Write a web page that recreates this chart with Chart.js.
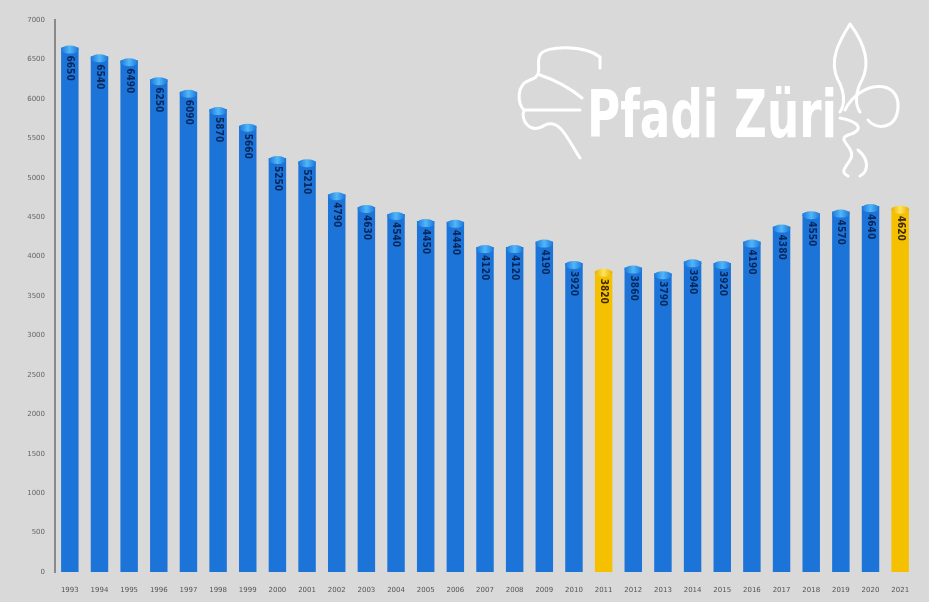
<!DOCTYPE html>
<html>
<head>
<meta charset="utf-8">
<script src="https://cdn.jsdelivr.net/npm/chart.js@4"></script>
<style>
  body { margin: 0; background: #fff; }
  #wrap { width: 937px; height: 608px; position: relative; }
</style>
</head>
<body>
<div id="wrap"><canvas id="myChart" width="937" height="608"></canvas></div>
<script>
// data
const years = ["1993", "1994", "1995", "1996", "1997", "1998", "1999", "2000", "2001", "2002",
  "2003", "2004", "2005", "2006", "2007", "2008", "2009", "2010", "2011", "2012",
  "2013", "2014", "2015", "2016", "2017", "2018", "2019", "2020", "2021"];
const members = [6650, 6540, 6490, 6250, 6090, 5870, 5660, 5250, 5210, 4790,
  4630, 4540, 4450, 4440, 4120, 4120, 4190, 3920, 3820, 3860,
  3790, 3940, 3920, 4190, 4380, 4550, 4570, 4640, 4620];
const highlightYears = ["2011", "2021"];
const yMax = 7000;
const yStep = 500;

const isHighlight = (i) => highlightYears.includes(years[i]);

// background + white margin
const bgPlugin = {
  id: "bg",
  beforeDraw(chart) {
    const ctx = chart.ctx;
    ctx.save();
    ctx.fillStyle = "#ffffff";
    ctx.fillRect(0, 0, chart.width, chart.height);
    ctx.fillStyle = "#d9d9d9";
    ctx.fillRect(0, 0, 929, 602);
    ctx.restore();
  },
};

// logo in the top right corner
const logoPlugin = {
  id: "logo",
  beforeDatasetsDraw(chart) {
    const ctx = chart.ctx;
    ctx.save();
    ctx.strokeStyle = "#ffffff";
    ctx.fillStyle = "#ffffff";
    ctx.lineWidth = 3;
    ctx.lineCap = "round";
    ctx.lineJoin = "round";

    // clover-ish shape on the left
    ctx.beginPath();
    ctx.moveTo(600, 57);
    ctx.bezierCurveTo(585, 45, 545, 45, 540, 55);
    ctx.bezierCurveTo(535, 65, 545, 75, 530, 80);
    ctx.bezierCurveTo(515, 85, 518, 105, 524, 110);
    ctx.lineTo(580, 110);
    ctx.moveTo(524, 110);
    ctx.bezierCurveTo(520, 120, 530, 135, 545, 125);
    ctx.bezierCurveTo(560, 118, 568, 140, 580, 158);
    ctx.moveTo(540, 75);
    ctx.bezierCurveTo(555, 80, 570, 88, 582, 98);
    ctx.moveTo(600, 57);
    ctx.lineTo(600, 68);
    ctx.stroke();

    // fleur-de-lis on the right
    ctx.beginPath();
    ctx.moveTo(850, 24);
    ctx.bezierCurveTo(840, 40, 828, 60, 838, 80);
    ctx.bezierCurveTo(845, 92, 845, 105, 840, 112);
    ctx.moveTo(850, 24);
    ctx.bezierCurveTo(862, 40, 872, 60, 862, 80);
    ctx.bezierCurveTo(855, 92, 855, 105, 860, 112);
    ctx.moveTo(845, 110);
    ctx.bezierCurveTo(860, 80, 900, 78, 898, 108);
    ctx.bezierCurveTo(896, 130, 875, 130, 868, 120);
    ctx.moveTo(840, 118);
    ctx.bezierCurveTo(860, 122, 865, 130, 848, 135);
    ctx.bezierCurveTo(835, 140, 858, 148, 850, 160);
    ctx.bezierCurveTo(845, 168, 840, 172, 848, 176);
    ctx.moveTo(858, 150);
    ctx.bezierCurveTo(870, 160, 868, 172, 860, 176);
    ctx.stroke();

    // text
    const txt = "Pfadi Züri";
    ctx.font = "bold 66px 'DejaVu Sans Condensed', 'Liberation Sans Narrow', sans-serif";
    const w = ctx.measureText(txt).width;
    ctx.translate(587, 137);
    ctx.scale(250 / w, 1);
    ctx.textBaseline = "alphabetic";
    ctx.fillText(txt, 0, 0);
    ctx.restore();
  },
};

// rounded caps on the bars and the vertical value labels
const barDecor = {
  id: "barDecor",
  afterDatasetsDraw(chart) {
    const ctx = chart.ctx;
    const meta = chart.getDatasetMeta(0);
    ctx.save();
    meta.data.forEach((bar, i) => {
      const hl = isHighlight(i);
      const half = bar.width / 2;
      // cap
      const g = ctx.createLinearGradient(bar.x - half, 0, bar.x + half, 0);
      if (hl) {
        g.addColorStop(0, "#e8b000");
        g.addColorStop(0.5, "#ffe45a");
        g.addColorStop(1, "#e8b000");
      } else {
        g.addColorStop(0, "#1a78dc");
        g.addColorStop(0.5, "#52b6f6");
        g.addColorStop(1, "#1a78dc");
      }
      ctx.fillStyle = g;
      ctx.beginPath();
      ctx.ellipse(bar.x, bar.y + 2, half, 4, 0, 0, Math.PI * 2);
      ctx.fill();

      // label
      ctx.save();
      ctx.translate(bar.x, bar.y + 8);
      ctx.rotate(Math.PI / 2);
      ctx.font = "bold 10px 'DejaVu Sans Condensed', sans-serif";
      ctx.fillStyle = hl ? "#3a2800" : "#06265a";
      ctx.textAlign = "left";
      ctx.textBaseline = "middle";
      ctx.fillText(String(members[i]), 0, 0);
      ctx.restore();
    });
    ctx.restore();
  },
};

const ctx = document.getElementById("myChart").getContext("2d");
const myChart = new Chart(ctx, {
  type: "bar",
  data: {
    labels: years,
    datasets: [
      {
        label: "Mitglieder",
        data: members,
        backgroundColor: (c) => {
          const chart = c.chart;
          const el = c.element;
          if (!chart.chartArea || !el || el.width === undefined) {
            return isHighlight(c.dataIndex) ? "#f5c000" : "#1c74d8";
          }
          const half = el.width / 2;
          const g = chart.ctx.createLinearGradient(el.x - half, 0, el.x + half, 0);
          if (isHighlight(c.dataIndex)) {
            g.addColorStop(0, "#e0a800");
            g.addColorStop(0.45, "#ffcf10");
            g.addColorStop(1, "#dca400");
          } else {
            g.addColorStop(0, "#0b58bc");
            g.addColorStop(0.45, "#1f7ee2");
            g.addColorStop(1, "#0a54b4");
          }
          return g;
        },
        borderWidth: 0,
        barPercentage: 0.62,
        categoryPercentage: 0.95,
      },
    ],
  },
  options: {
    responsive: false,
    animation: false,
    devicePixelRatio: 1,
    layout: { padding: { top: 20, right: 22, bottom: 6, left: 2 } },
    plugins: {
      legend: { display: false },
      tooltip: { enabled: false },
    },
    scales: {
      x: {
        grid: { display: false, drawTicks: false },
        border: { display: false },
        ticks: {
          padding: 14,
          maxRotation: 0,
          autoSkip: false,
          color: "#555",
          font: { size: 7, family: "'DejaVu Sans', sans-serif" },
        },
        afterFit: (axis) => { axis.height = 30; },
      },
      y: {
        min: 0,
        max: yMax,
        grid: { display: false, drawTicks: false },
        border: { display: true, color: "#8a8a8a", width: 2 },
        ticks: {
          stepSize: yStep,
          padding: 10,
          color: "#666",
          font: { size: 7, family: "'DejaVu Sans', sans-serif" },
          callback: (v) => String(v),
        },
        afterFit: (axis) => { axis.width = 53; },
      },
    },
  },
  plugins: [bgPlugin, logoPlugin, barDecor],
});
</script>
</body>
</html>
